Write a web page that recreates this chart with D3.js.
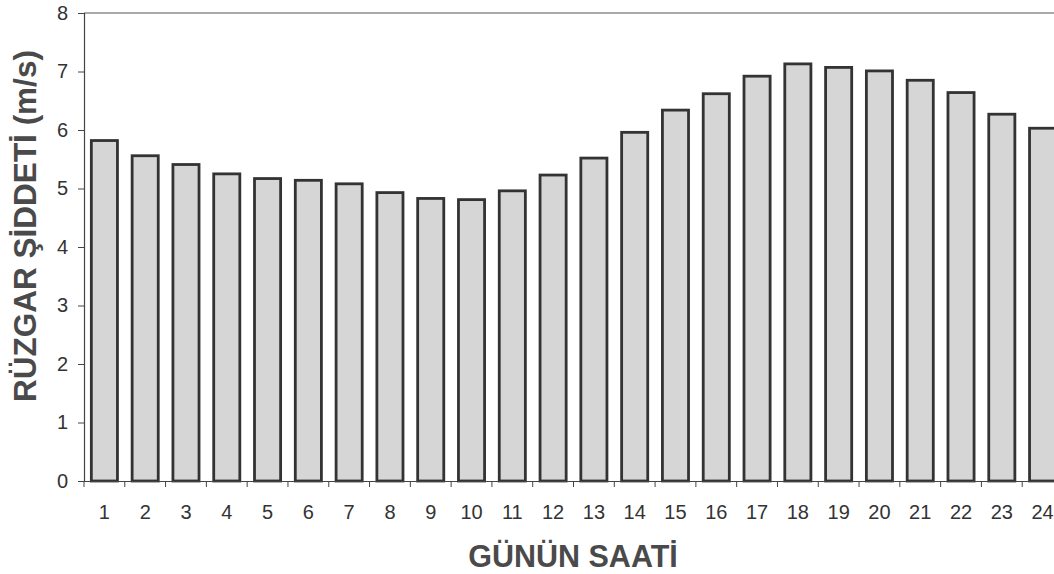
<!DOCTYPE html>
<html><head><meta charset="utf-8">
<script src="https://cdn.jsdelivr.net/npm/d3@7"></script>
<style>body{margin:0;background:#fff;} svg{display:block;}</style>
</head><body>
<svg id="c" width="1054" height="574"></svg>
<script>
const hours = ["1","2","3","4","5","6","7","8","9","10","11","12","13","14","15","16","17","18","19","20","21","22","23","24"];
const windSpeed = [5.82,5.56,5.41,5.25,5.17,5.14,5.08,4.93,4.83,4.81,4.96,5.23,5.52,5.96,6.34,6.62,6.92,7.13,7.07,7.01,6.85,6.64,6.27,6.03];
const yTicks = [0,1,2,3,4,5,6,7,8];

const FONT = "Arial, 'Liberation Sans', sans-serif";
const svg = d3.select("#c");
const L = 84, T = 13, B = 481, R = 1063;
const x = d3.scaleBand().domain(hours).range([L, R]).paddingInner(0.36).paddingOuter(0.18);
const xb = d3.scaleLinear().domain([0, hours.length]).range([L, R]);
const y = d3.scaleLinear().domain([0, 8]).range([B, T]);

// top border
svg.append("line").attr("x1", L).attr("x2", R).attr("y1", T).attr("y2", T)
  .attr("stroke", "#555").attr("stroke-width", 1.2);

svg.selectAll("rect.bar").data(windSpeed).join("rect").attr("class","bar")
  .attr("x", (d,i) => x(hours[i]))
  .attr("width", x.bandwidth())
  .attr("y", d => y(d))
  .attr("height", d => y(0) - y(d))
  .attr("fill", "#d6d6d6").attr("stroke", "#333").attr("stroke-width", 2.8);

// y axis
const ya = svg.append("g").attr("transform", `translate(${L},0)`)
  .call(d3.axisLeft(y).tickValues(yTicks).tickSize(6).tickPadding(10).tickFormat(d3.format("d")));
ya.select(".domain").attr("stroke", "#444").attr("stroke-width", 1.2);
ya.selectAll(".tick line").attr("stroke", "#444");
ya.selectAll("text").attr("font-family", FONT).attr("font-size", 20).attr("fill", "#333");

// x axis
const xa = svg.append("g").attr("transform", `translate(0,${B})`)
  .call(d3.axisBottom(x).tickSize(0).tickPadding(24));
xa.select(".domain").attr("stroke", "#444").attr("stroke-width", 1.2);
xa.selectAll("text").attr("font-family", FONT).attr("font-size", 20).attr("fill", "#333");
svg.append("g").selectAll("line").data(d3.range(hours.length + 1)).join("line")
  .attr("x1", d => xb(d)).attr("x2", d => xb(d)).attr("y1", B).attr("y2", B + 6)
  .attr("stroke", "#444").attr("stroke-width", 1);

svg.append("text").attr("x", 573).attr("y", 567).attr("text-anchor", "middle")
  .attr("font-family", FONT).attr("font-weight", "bold")
  .attr("font-size", 30.5).attr("fill", "#4a4a4a").text("GÜNÜN SAATİ");

svg.append("text").attr("transform", "translate(36,226) rotate(-90)").attr("text-anchor", "middle")
  .attr("font-family", FONT).attr("font-weight", "bold")
  .attr("font-size", 31.5).attr("fill", "#4a4a4a").text("RÜZGAR ŞİDDETİ (m/s)");
</script>
</body></html>
